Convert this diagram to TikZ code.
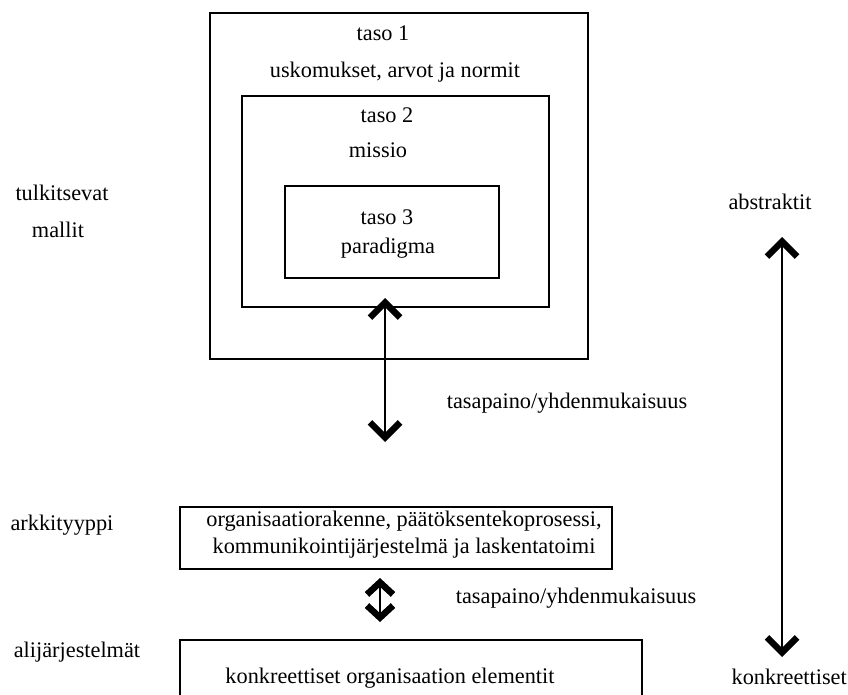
\documentclass[tikz,border=0pt]{standalone}
\usepackage{fontspec}
\setmainfont{Liberation Serif}
\usetikzlibrary{arrows.meta}
\tikzset{
  box/.style={draw, line width=2.5pt, inner sep=0pt},
  lbl/.style={font=\fontsize{22.3}{27}\selectfont, inner sep=0pt, align=center},
  bigarrow/.style={line width=2.2pt,
    {Straight Barb[length=15pt,width=30pt,line width=6.5pt]}-{Straight Barb[length=15pt,width=30pt,line width=6.5pt]}},
  smallarrow/.style={line width=2.2pt,
    {Straight Barb[length=12pt,width=26pt,line width=6.5pt]}-{Straight Barb[length=12pt,width=26pt,line width=6.5pt]}},
}
\begin{document}
\begin{tikzpicture}[x=1pt,y=-1pt]
\clip (0,0) rectangle (848,695);
% laatikot
\node[box, minimum width=378pt, minimum height=346pt] (taso1) at (399,186) {};
\node[box, minimum width=307pt, minimum height=211pt] (taso2) at (395.5,201.5) {};
\node[box, minimum width=214pt, minimum height=92pt] (taso3) at (392,232) {};
\node[box, minimum width=432pt, minimum height=62pt] (arkki) at (396,538) {};
\node[box, minimum width=462pt, minimum height=100pt] (ali) at (411,690) {};
% tekstit
\node[lbl] (t1) at (383,33) {taso 1};
\node[lbl] (t1b) at (395,72) {uskomukset, arvot ja normit};
\node[lbl] (t2) at (387,115) {taso 2};
\node[lbl] (t2b) at (378,150) {missio};
\node[lbl] (t3) at (387,217) {taso 3};
\node[lbl] (t3b) at (388,248) {paradigma};
\node[lbl] (arkkit) at (404,535) {organisaatiorakenne, päätöksentekoprosessi,\\kommunikointijärjestelmä ja laskentatoimi};
\node[lbl] (alit) at (390,678) {konkreettiset organisaation elementit};
\node[lbl] (tulk) at (62,193) {tulkitsevat};
\node[lbl] (mallit) at (58,230) {mallit};
\node[lbl] (arkkityyppi) at (62,525) {arkkityyppi};
\node[lbl] (alij) at (77,652) {alijärjestelmät};
\node[lbl] (abs) at (770,202) {abstraktit};
\node[lbl, anchor=east] (konk) at (847,677) {konkreettiset};
\node[lbl] (tp1) at (567,403) {tasapaino/yhdenmukaisuus};
\node[lbl] (tp2) at (576,598) {tasapaino/yhdenmukaisuus};
% nuolet
\coordinate (a1top) at (385,298);
\coordinate (a1bot) at (385,442);
\coordinate (a2top) at (380,578);
\coordinate (a2bot) at (380,622);
\coordinate (a3top) at (782,237);
\coordinate (a3bot) at (782,657);
\draw[bigarrow] (a1bot) -- (a1top);
\draw[smallarrow] (a2bot) -- (a2top);
\draw[bigarrow] (a3bot) -- (a3top);
\end{tikzpicture}
\end{document}
